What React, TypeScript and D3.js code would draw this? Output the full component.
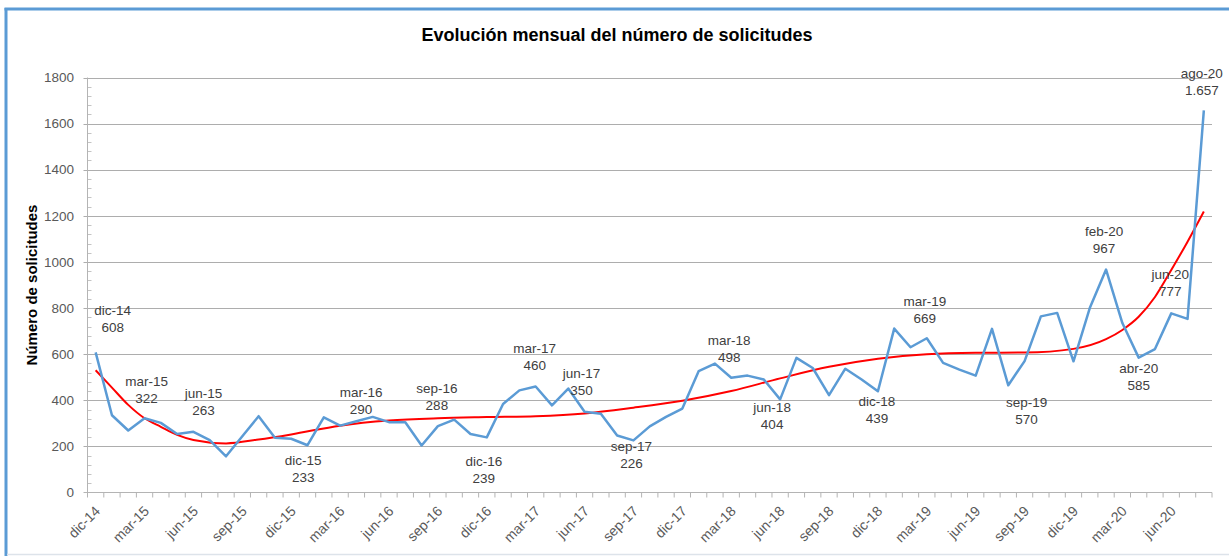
import React, { useEffect, useRef } from 'react'
import * as d3 from 'd3'

// monthly categories, dic-14 .. ago-20
const months = [
  'dic-14',
  'ene-15', 'feb-15', 'mar-15', 'abr-15', 'may-15', 'jun-15', 'jul-15', 'ago-15', 'sep-15', 'oct-15', 'nov-15', 'dic-15',
  'ene-16', 'feb-16', 'mar-16', 'abr-16', 'may-16', 'jun-16', 'jul-16', 'ago-16', 'sep-16', 'oct-16', 'nov-16', 'dic-16',
  'ene-17', 'feb-17', 'mar-17', 'abr-17', 'may-17', 'jun-17', 'jul-17', 'ago-17', 'sep-17', 'oct-17', 'nov-17', 'dic-17',
  'ene-18', 'feb-18', 'mar-18', 'abr-18', 'may-18', 'jun-18', 'jul-18', 'ago-18', 'sep-18', 'oct-18', 'nov-18', 'dic-18',
  'ene-19', 'feb-19', 'mar-19', 'abr-19', 'may-19', 'jun-19', 'jul-19', 'ago-19', 'sep-19', 'oct-19', 'nov-19', 'dic-19',
  'ene-20', 'feb-20', 'mar-20', 'abr-20', 'may-20', 'jun-20', 'jul-20', 'ago-20',
]

const requests = [
  608,
  335, 269, 322, 302, 254, 263, 227, 157, 244, 331, 237, 233,
  205, 326, 290, 309, 328, 305, 305, 204, 288, 316, 254, 239,
  384, 443, 460, 378, 451, 350, 342, 247, 226, 287, 328, 364,
  526, 559, 498, 507, 490, 404, 584, 540, 422, 537, 490, 439,
  711, 630, 669, 562, 533, 507, 710, 465, 570, 764, 779, 569,
  800, 967, 735, 585, 622, 777, 753, 1657,
]

// trend line (red) at these month positions
const trendMonths = [0, 1, 2, 3, 4, 5, 6, 8, 10, 12, 15, 18, 21, 24, 27, 30, 33, 36, 39, 42, 45, 48, 51, 54, 57, 60, 62, 63, 64, 65, 66, 67, 68]
const trendValues = [530, 455, 380, 322, 285, 250, 228, 213, 230, 252, 290, 312, 322, 327, 331, 343, 368, 398, 440, 495, 545, 580, 600, 606, 607, 623, 665, 705, 762, 848, 965, 1088, 1219]

// months that carry a data label
const labelMonths = [0, 3, 6, 12, 15, 21, 24, 27, 30, 33, 39, 42, 48, 51, 57, 62, 64, 66, 68]

const yTicks = [0, 200, 400, 600, 800, 1000, 1200, 1400, 1600, 1800]

const W = 1229, H = 556
const FONT = '"Liberation Sans", Arial, sans-serif'

// label offsets from the point (first line centre)
const labelOffsets: Record<number, [number, number]> = {
  0: [17, -42], 3: [2, -37], 6: [10, -39], 12: [12, 21], 15: [21, -33],
  21: [-1, -38], 24: [-3, 24], 27: [-1, -38], 30: [-3, -39], 33: [-2, 6],
  39: [-2, -37], 42: [-8, 8], 48: [-1, 10], 51: [-2, -37], 57: [2, 41],
  62: [-2, -38], 64: [0, 11], 66: [-1, -39], 68: [-2, -37],
}

const fmt = d3.formatLocale({ decimal: ',', thousands: '.', grouping: [3], currency: ['', '€'] }).format(',d')

export default function App() {
  const ref = useRef<SVGSVGElement>(null)

  useEffect(() => {
    const svg = d3.select(ref.current)
    svg.selectAll('*').remove()

    const left = 87.5, right = 1212, top = 77.5, bottom = 492.5

    const x = d3.scaleBand<string>().domain(months).range([left, right]).padding(0)
    const cx = (i: number) => (x(months[i]) as number) + x.bandwidth() / 2
    const y = d3.scaleLinear().domain([0, 1800]).range([bottom, top])

    // frame
    svg.append('rect').attr('width', W).attr('height', H).attr('fill', '#fff')
    svg.append('line').attr('x1', 6).attr('x2', 6).attr('y1', 8).attr('y2', H).attr('stroke', '#5b9bd5').attr('stroke-width', 3)
    svg.append('line').attr('x1', 4.5).attr('x2', W).attr('y1', 9).attr('y2', 9).attr('stroke', '#5b9bd5').attr('stroke-width', 3)
    svg.append('line').attr('x1', 7).attr('x2', W).attr('y1', 554.5).attr('y2', 554.5).attr('stroke', '#dde3ea').attr('stroke-width', 1.5)

    // title
    svg.append('text')
      .attr('x', 617).attr('y', 41)
      .attr('text-anchor', 'middle')
      .style('font-family', FONT).style('font-weight', 'bold').style('font-size', '18px')
      .attr('fill', '#000')
      .text('Evolución mensual del número de solicitudes')

    svg.append('text')
      .attr('transform', `translate(37,285) rotate(-90)`)
      .attr('text-anchor', 'middle')
      .style('font-family', FONT).style('font-weight', 'bold').style('font-size', '15px')
      .attr('fill', '#000')
      .text('Número de solicitudes')

    // grid
    svg.append('g')
      .selectAll('line')
      .data(yTicks.filter(d => d > 0))
      .enter().append('line')
      .attr('x1', left - 4).attr('x2', right)
      .attr('y1', d => Math.round(y(d)) + 0.5).attr('y2', d => Math.round(y(d)) + 0.5)
      .attr('stroke', '#adadad')

    // y minor ticks
    svg.append('g')
      .selectAll('line')
      .data(d3.range(40, 1800, 40).filter(d => d % 200 !== 0))
      .enter().append('line')
      .attr('x1', left).attr('x2', left + 4)
      .attr('y1', d => Math.round(y(d)) + 0.5).attr('y2', d => Math.round(y(d)) + 0.5)
      .attr('stroke', '#c4c4c4')

    // axes lines
    svg.append('line').attr('x1', left).attr('x2', left).attr('y1', top).attr('y2', bottom)
      .attr('stroke', '#b4b4b4')
    svg.append('line').attr('x1', left - 4).attr('x2', right).attr('y1', bottom).attr('y2', bottom)
      .attr('stroke', '#b4b4b4')

    svg.append('g')
      .selectAll('text')
      .data(yTicks)
      .enter().append('text')
      .attr('x', 74).attr('y', d => y(d))
      .attr('dy', '0.35em')
      .attr('text-anchor', 'end')
      .style('font-family', FONT).style('font-size', '13.5px')
      .attr('fill', '#595959')
      .text(d => d)

    // x ticks at month boundaries
    svg.append('g')
      .selectAll('line')
      .data(d3.range(months.length + 1))
      .enter().append('line')
      .attr('x1', i => left + i * x.bandwidth()).attr('x2', i => left + i * x.bandwidth())
      .attr('y1', bottom).attr('y2', bottom + 5)
      .attr('stroke', '#b4b4b4')

    svg.append('g')
      .selectAll('text')
      .data(d3.range(0, months.length, 3))
      .enter().append('text')
      .attr('transform', i => `translate(${cx(i) + 2},${bottom + 16}) rotate(-45)`)
      .attr('dy', '0.35em')
      .attr('text-anchor', 'end')
      .style('font-family', FONT).style('font-size', '14px')
      .attr('fill', '#595959')
      .text(i => months[i])

    // trend
    const trendLine = d3.line<number>()
      .x(i => cx(trendMonths[i]))
      .y(i => y(trendValues[i]))
      .curve(d3.curveMonotoneX)
    svg.append('path')
      .datum(d3.range(trendMonths.length))
      .attr('d', trendLine)
      .attr('fill', 'none')
      .attr('stroke', '#ff0000')
      .attr('stroke-width', 2)

    // data
    const line = d3.line<number>()
      .x((d, i) => cx(i))
      .y(d => y(d))
    svg.append('path')
      .datum(requests)
      .attr('d', line)
      .attr('fill', 'none')
      .attr('stroke', '#5b9bd5')
      .attr('stroke-width', 2.5)
      .attr('stroke-linejoin', 'round')

    // data labels
    const lbl = svg.append('g')
      .style('font-family', FONT).style('font-size', '13.5px')
      .attr('fill', '#404040')
      .attr('text-anchor', 'middle')
    labelMonths.forEach(i => {
      const [dx, dy] = labelOffsets[i]
      const px = cx(i) + dx, py = y(requests[i]) + dy
      lbl.append('text').attr('x', px).attr('y', py).attr('dy', '0.35em').text(months[i])
      lbl.append('text').attr('x', px).attr('y', py + 17).attr('dy', '0.35em').text(fmt(requests[i]))
    })
  }, [])

  return (
    <div style={{ position: 'absolute', left: 0, top: 0 }}>
      <svg ref={ref} width={W} height={H} style={{ display: 'block' }}></svg>
    </div>
  )
}
